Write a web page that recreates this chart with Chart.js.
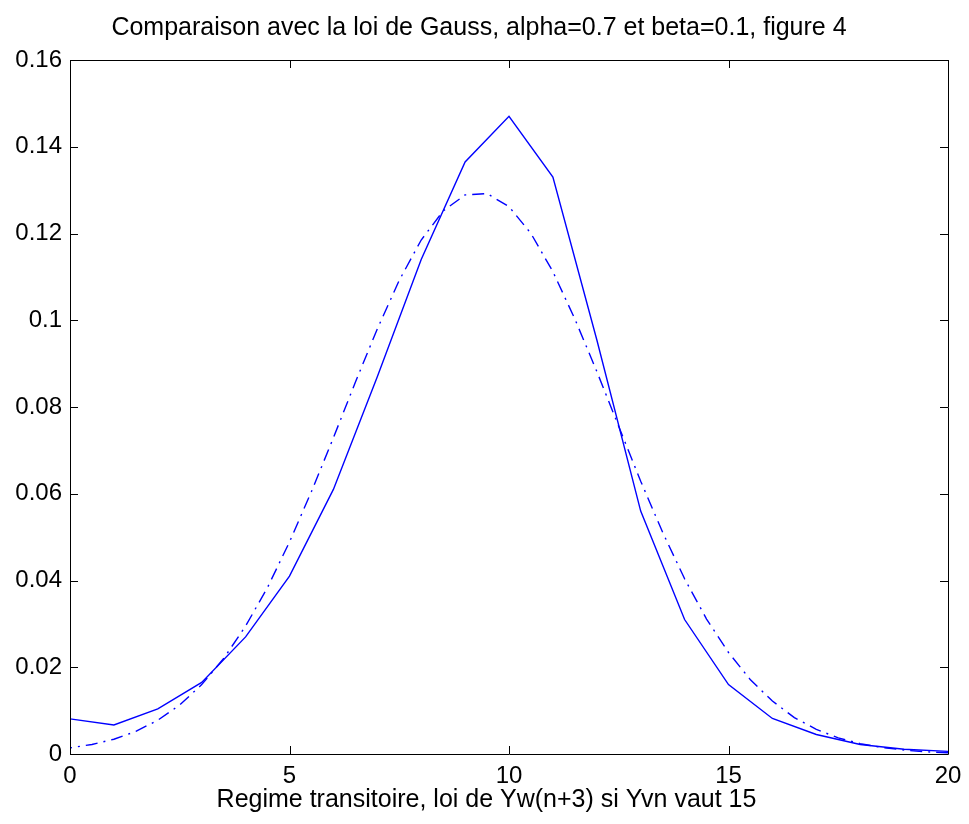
<!DOCTYPE html>
<html>
<head>
<meta charset="utf-8">
<script src="https://cdn.jsdelivr.net/npm/chart.js@4"></script>
<style>
  html, body { margin: 0; padding: 0; background: #fff; }
  #wrap { width: 969px; height: 824px; }
</style>
</head>
<body>
<div id="wrap"><canvas id="gauss_chart" width="969" height="824"></canvas></div>
<script>
// regime transitoire (trait plein), valeurs lues a x = 0..20
let xSolid = [0,1,2,3,4,5,6,7,8,9,10,11,12,13,14,15,16,17,18,19,20];
let ySolid = [0.0081,0.0067,0.0104,0.0165,0.0270,0.0410,0.0610,0.0870,0.1140,0.1365,0.1470,
              0.1330,0.0955,0.0560,0.0310,0.0160,0.0082,0.0045,0.0022,0.0011,0.0006];

// loi de Gauss (trait mixte), lue tous les 0.5
let xGauss = [0,0.5,1,1.5,2,2.5,3,3.5,4,4.5,5,5.5,6,6.5,7,7.5,8,8.5,9,9.5,10,
              10.5,11,11.5,12,12.5,13,13.5,14,14.5,15,15.5,16,16.5,17,17.5,18,18.5,19,19.5,20];
let yGauss = [0.0014,0.0022,0.0034,0.0052,0.0078,0.0113,0.0160,0.0220,0.0295,0.0384,0.0489,
              0.0605,0.0729,0.0857,0.0980,0.1092,0.1185,0.1252,0.1289,0.1292,0.1262,
              0.1200,0.1112,0.1003,0.0882,0.0755,0.0629,0.0511,0.0404,0.0311,0.0234,
              0.0171,0.0122,0.0084,0.0057,0.0037,0.0024,0.0015,0.0009,0.0005,0.0003];

let xTicks = [0,5,10,15,20];
let yTicks = [0,0.02,0.04,0.06,0.08,0.1,0.12,0.14,0.16];

let titleText = "Comparaison avec la loi de Gauss, alpha=0.7 et beta=0.1, figure 4";
let xLabel = "Regime transitoire, loi de Yw(n+3) si Yvn vaut 15";

function toPoints(xs, ys) {
    let pts = new Array();
    for (let i = 0; i < xs.length; i++) {
        pts[i] = {x: xs[i], y: ys[i]};
    }
    return pts;
}

// cadre + graduations vers l'interieur (style matlab) + legende de l'axe x
const boxPlugin = {
    id: "boxPlugin",
    afterDraw(chart) {
        const ctx = chart.ctx;
        const a = chart.chartArea;
        const sx = chart.scales.x, sy = chart.scales.y;
        const tl = 8;
        ctx.save();
        ctx.strokeStyle = "#000";
        ctx.lineWidth = 1;
        ctx.beginPath();
        ctx.rect(Math.round(a.left) + 0.5, Math.round(a.top) + 0.5,
                 Math.round(a.right - a.left), Math.round(a.bottom - a.top));
        xTicks.forEach(function (v) {
            let px = Math.round(sx.getPixelForValue(v)) + 0.5;
            ctx.moveTo(px, a.bottom); ctx.lineTo(px, a.bottom - tl);
            ctx.moveTo(px, a.top); ctx.lineTo(px, a.top + tl);
        });
        yTicks.forEach(function (v) {
            let py = Math.round(sy.getPixelForValue(v)) + 0.5;
            ctx.moveTo(a.left, py); ctx.lineTo(a.left + tl, py);
            ctx.moveTo(a.right, py); ctx.lineTo(a.right - tl, py);
        });
        ctx.stroke();

        ctx.fillStyle = "#000";
        ctx.font = "25px 'Liberation Sans', Arial, sans-serif";
        ctx.textAlign = "center";
        ctx.textBaseline = "alphabetic";
        ctx.fillText(xLabel, chart.width / 2 + 2, 807);
        ctx.restore();
    }
};

const bgPlugin = {
    id: "bgPlugin",
    beforeDraw(chart) {
        const ctx = chart.ctx;
        ctx.save();
        ctx.fillStyle = "#fff";
        ctx.fillRect(0, 0, chart.width, chart.height);
        ctx.restore();
    }
};

Chart.defaults.font.family = "'Liberation Sans', Arial, sans-serif";
Chart.defaults.color = "#000";

new Chart("gauss_chart", {
    type: "line",
    data: {
        datasets: [{
            label: "transitoire",
            data: toPoints(xSolid, ySolid),
            borderColor: "#0000ff",
            borderWidth: 1.4,
            pointRadius: 0,
            fill: false,
            tension: 0
        }, {
            label: "gauss",
            data: toPoints(xGauss, yGauss),
            borderColor: "#0000ff",
            borderWidth: 1.4,
            borderDash: [12, 6, 2, 6],
            borderDashOffset: 10,
            pointRadius: 0,
            fill: false,
            tension: 0
        }]
    },
    options: {
        responsive: false,
        animation: false,
        layout: {padding: {left: 10, right: 21, top: 0, bottom: 0}},
        plugins: {
            legend: {display: false},
            tooltip: {enabled: false},
            title: {
                display: true,
                text: titleText,
                font: {size: 25, weight: "normal"},
                padding: {top: 13, bottom: 17}
            }
        },
        scales: {
            x: {
                type: "linear",
                min: 0,
                max: 20,
                grid: {display: false},
                border: {display: false},
                afterBuildTicks: function (scale) {
                    scale.ticks = xTicks.map(function (v) { return {value: v}; });
                },
                afterFit: function (scale) { scale.height = 70; },
                ticks: {
                    font: {size: 24},
                    padding: 0,
                    maxRotation: 0,
                    callback: function (v) { return String(v); }
                }
            },
            y: {
                type: "linear",
                min: 0,
                max: 0.16,
                grid: {display: false},
                border: {display: false},
                afterBuildTicks: function (scale) {
                    scale.ticks = yTicks.map(function (v) { return {value: v}; });
                },
                afterFit: function (scale) { scale.width = 60; },
                ticks: {
                    font: {size: 24},
                    padding: 0,
                    callback: function (v) { return String(+v.toFixed(2)); }
                }
            }
        }
    },
    plugins: [bgPlugin, boxPlugin]
});
</script>
</body>
</html>
